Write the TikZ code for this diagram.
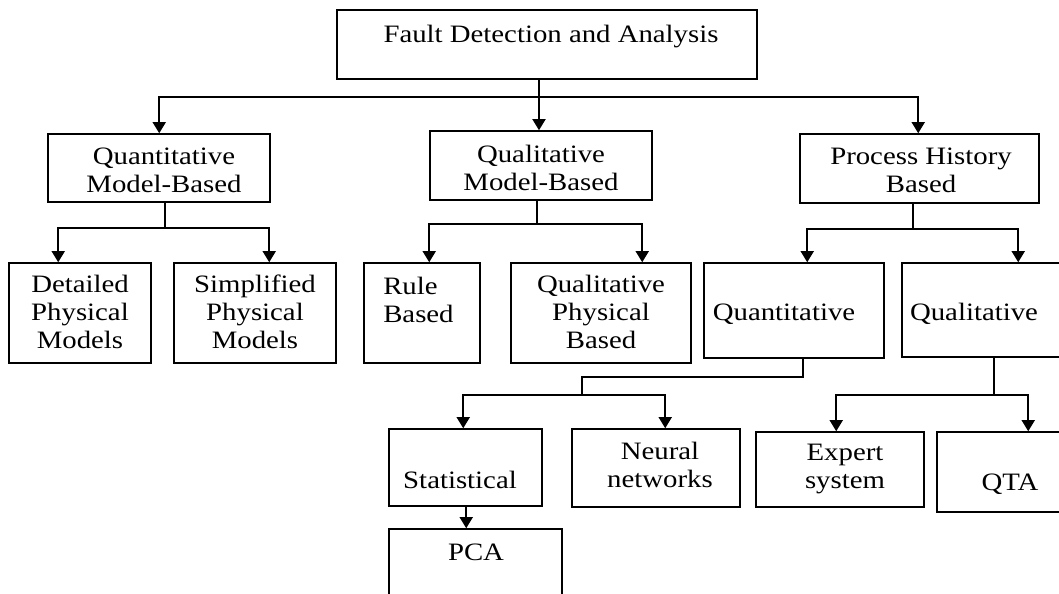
\documentclass[tikz,border=0pt]{standalone}
\usepackage{fontspec}
\setmainfont{Liberation Serif}[FakeStretch=1.15]
\usetikzlibrary{arrows.meta, fit, calc}

\begin{document}
\begin{tikzpicture}[x=0.025cm, y=-0.025cm,
  box/.style={draw, line width=1.1pt, inner sep=0pt},
  lbl/.style={inner sep=0pt, align=center, font=\fontsize{17.8}{19.9}\selectfont},
  link/.style={line width=1.1pt},
  arr/.style={link, -{Triangle[width=0.33cm, length=0.28cm]}}]
\useasboundingbox (0,0) rectangle (1059,593);

\node[box, fit={(337,10) (757,79)}] (root) {};
\node[lbl] (rootT) at (551,37) {Fault Detection and Analysis};

\node[box, fit={(48,134) (270,202)}] (qmb) {};
\node[lbl] (qmbT) at (164,170) {Quantitative\\Model-Based};
\node[box, fit={(430,131) (652,200)}] (qlmb) {};
\node[lbl] (qlmbT) at (541,168) {Qualitative\\Model-Based};
\node[box, fit={(800,134) (1039,203)}] (phb) {};
\node[lbl] (phbT) at (921,170) {Process History\\Based};

\node[box, fit={(9,263) (151,363)}] (dpm) {};
\node[lbl] (dpmT) at (80,312) {Detailed\\Physical\\Models};
\node[box, fit={(174,263) (336,363)}] (spm) {};
\node[lbl] (spmT) at (255,312) {Simplified\\Physical\\Models};
\node[box, fit={(364,263) (480,363)}] (rb) {};
\node[lbl, align=left, anchor=west] (rbT) at (383,300) {Rule\\Based};
\node[box, fit={(511,263) (691,363)}] (qpb) {};
\node[lbl] (qpbT) at (601,312) {Qualitative\\Physical\\Based};
\node[box, fit={(704,263) (884,358)}] (quant) {};
\node[lbl] (quantT) at (784,314) {Quantitative};
\node[box, fit={(902,263) (1080,357)}] (qual) {};
\node[lbl] (qualT) at (974,314) {Qualitative};

\node[box, fit={(389,429) (542,506)}] (stat) {};
\node[lbl] (statT) at (460,480) {Statistical};
\node[box, fit={(572,429) (740,507)}] (nn) {};
\node[lbl] (nnT) at (660,465) {Neural\\networks};
\node[box, fit={(756,432) (924,507)}] (es) {};
\node[lbl] (esT) at (845,469) {Expert\\system};
\node[box, fit={(937,432) (1080,512)}] (qta) {};
\node[lbl] (qtaT) at (1010,484) {QTA};
\node[box, fit={(389,529) (562,620)}] (pca) {};
\node[lbl] (pcaT) at (476,552) {PCA};

\coordinate (j0) at (539,97);
\draw[link] (j0 |- root.south) -- (j0);
\draw[arr] (j0) -| ($(qmb.north west)+(112,0)$);
\draw[arr] (j0) -- (j0 |- qlmb.north);
\draw[arr] (j0) -| ($(phb.north west)+(119,0)$);

\coordinate (j1) at (165,228);
\draw[link] (j1 |- qmb.south) -- (j1);
\draw[arr] (j1) -| ($(dpm.north west)+(50,0)$);
\draw[arr] (j1) -| ($(spm.north west)+(96,0)$);

\coordinate (j2) at (537,224);
\draw[link] (j2 |- qlmb.south) -- (j2);
\draw[arr] (j2) -| ($(rb.north west)+(66,0)$);
\draw[arr] (j2) -| ($(qpb.north west)+(132,0)$);

\coordinate (j3) at (913,229);
\draw[link] (j3 |- phb.south) -- (j3);
\draw[arr] (j3) -| ($(quant.north west)+(104,0)$);
\draw[arr] (j3) -| ($(qual.north west)+(117,0)$);

\coordinate (j4) at (803,377);
\coordinate (j5) at (582,395);
\draw[link] (j4 |- quant.south) -- (j4) -| (j5);
\draw[arr] (j5) -| ($(stat.north west)+(75,0)$);
\draw[arr] (j5) -| ($(nn.north west)+(94,0)$);

\coordinate (j6) at (994,395);
\draw[link] (j6 |- qual.south) -- (j6);
\draw[arr] (j6) -| ($(es.north west)+(81,0)$);
\draw[arr] (j6) -| ($(qta.north west)+(92,0)$);

\draw[arr] ($(stat.south west)+(78,0)$) -- ($(pca.north west)+(78,0)$);
\end{tikzpicture}
\end{document}
